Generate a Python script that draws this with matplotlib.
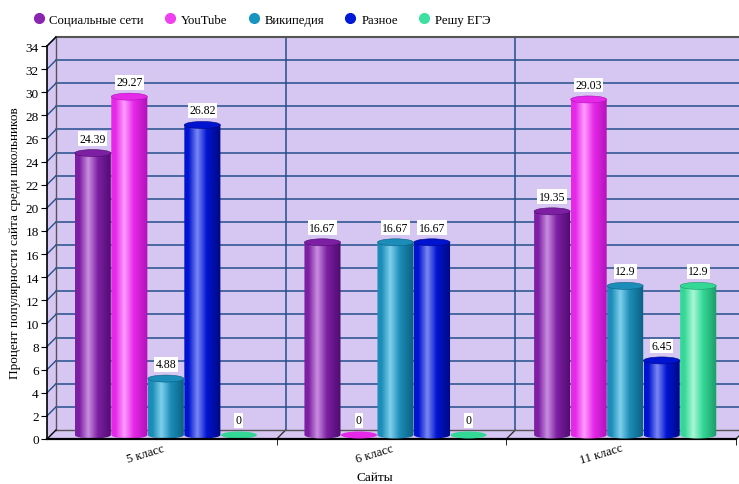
import numpy as np
import matplotlib.pyplot as plt
from matplotlib.colors import LinearSegmentedColormap
from matplotlib.patches import Polygon, Ellipse
from matplotlib.lines import Line2D

plt.rcParams['font.family'] = ['Liberation Serif', 'DejaVu Serif']

# data
categories = ['5 класс', '6 класс', '11 класс']
series = ['Социальные сети', 'YouTube', 'Википедия', 'Разное', 'Решу ЕГЭ']
soc = [24.39, 16.67, 19.35]
youtube = [29.27, 0, 29.03]
wiki = [4.88, 16.67, 12.9]
misc = [26.82, 16.67, 6.45]
ege = [0, 0, 12.9]
values = [soc, youtube, wiki, misc, ege]
yticks = list(range(0, 35, 2))

# colours: (dark edge, body, highlight, legend)
shades = [
    ('#4e0c6e', '#7d1fa3', '#c98fe0', '#8a25b0'),
    ('#b010b8', '#e628e8', '#ff9cff', '#f040f0'),
    ('#0b5f80', '#1b8db8', '#7fd0ec', '#1894c0'),
    ('#000880', '#0014d0', '#7a88f4', '#0018d8'),
    ('#1c9a68', '#34d896', '#aaf8d6', '#3ce0a0'),
]
lav = '#d6c6f2'
gridc = '#24508a'

W, H = 739, 485
fig = plt.figure(figsize=(W / 100, H / 100), dpi=100)
ax_l, ax_b, ax_w, ax_h = 47, 45, 689, 393
ax = fig.add_axes([ax_l / W, ax_b / H, ax_w / W, ax_h / H])
ax.set_xlim(0, 3)
ax.set_ylim(0, 34)

px_x = 3 / ax_w      # data units per pixel
px_y = 34 / ax_h
dxw, dyw = 9 * px_x, 9 * px_y   # back wall depth
dxb, dyb = 4 * px_x, 4 * px_y   # bar depth

# walls
kw = dict(closed=True, facecolor=lav, edgecolor='none', clip_on=False, zorder=0)
ax.add_patch(Polygon([(dxw, dyw), (3 + dxw, dyw), (3 + dxw, 34 + dyw), (dxw, 34 + dyw)], **kw))
ax.add_patch(Polygon([(0, 0), (dxw, dyw), (dxw, 34 + dyw), (0, 34)], **kw))
ax.add_patch(Polygon([(0, 0), (3, 0), (3 + dxw, dyw), (dxw, dyw)], **kw))

for y in yticks[1:]:
    ax.plot([dxw, 3 + dxw], [y + dyw, y + dyw], color=gridc, lw=1.1, clip_on=False, zorder=1)
    ax.plot([0, dxw], [y, y + dyw], color=gridc, lw=1.0, clip_on=False, zorder=1)
for x in [1, 2]:
    ax.plot([x + dxw, x + dxw], [dyw, 34 + dyw], color=gridc, lw=1.1, clip_on=False, zorder=1)
for x in [1, 2, 3]:
    ax.plot([x, x + dxw], [0, dyw], color='#333333', lw=1.0, clip_on=False, zorder=1)
ax.plot([dxw, 3 + dxw], [dyw, dyw], color='#555555', lw=1.0, clip_on=False, zorder=1)
ax.plot([dxw, dxw], [dyw, 34 + dyw], color='#555555', lw=1.0, clip_on=False, zorder=1)
ax.plot([dxw, 3 + dxw], [34 + dyw, 34 + dyw], color='#555555', lw=1.5, clip_on=False, zorder=1)
ax.plot([0, dxw], [34, 34 + dyw], color='black', lw=1.0, clip_on=False, zorder=1)
ax.plot([0, dxw], [0, dyw], color='black', lw=1.0, clip_on=False, zorder=1)

# cylinders
slot = 0.159
bw = 0.157
eh = 7 * px_y
theta = np.linspace(np.pi, 2 * np.pi, 40)
grad = np.linspace(0, 1, 200).reshape(1, -1)
for s, vals in enumerate(values):
    dark, body, light, _ = shades[s]
    cmap = LinearSegmentedColormap.from_list(
        's%d' % s, [(0, body), (0.12, body), (0.36, light), (0.62, body), (1, dark)])
    for g, v in enumerate(vals):
        xc = g + 0.5 + (s - 2) * slot + dxb
        base = dyb
        x0, x1 = xc - bw / 2, xc + bw / 2
        z = 2 + s * 0.1 + g
        label_y = base + eh / 2
        if v > 0:
            top = v + dyb
            bx = xc + bw / 2 * np.cos(theta)
            by = base + eh / 2 * np.sin(theta)
            verts = list(zip(bx, by)) + [(x1, top), (x0, top)]
            clip = Polygon(verts, closed=True, facecolor='none', edgecolor='none', transform=ax.transData)
            ax.add_patch(clip)
            im = ax.imshow(grad, cmap=cmap, aspect='auto', extent=[x0, x1, base - eh, top],
                           zorder=z, interpolation='bilinear')
            im.set_clip_path(clip)
            ax.add_patch(Ellipse((xc, top), bw, eh, facecolor=body, edgecolor=dark, lw=0.4, zorder=z + 0.01))
            label_y = top + eh / 2
        else:
            ax.add_patch(Ellipse((xc, base), bw, eh, facecolor=body, edgecolor='none', zorder=z))
        txt = '%g' % v
        ax.text(xc, label_y + 5 * px_y, txt, ha='center', va='bottom', fontsize=8.5, zorder=20,
                bbox=dict(facecolor='white', edgecolor='none', pad=1.0))

# axes
ax.set_xlim(0, 3)
ax.set_ylim(0, 34)
for sp in ['top', 'right']:
    ax.spines[sp].set_visible(False)
ax.spines['left'].set_linewidth(1.2)
ax.spines['bottom'].set_linewidth(1.6)
ax.set_yticks(yticks)
ax.tick_params(axis='y', direction='out', length=4, labelsize=9.5, pad=2)
ax.set_xticks([0.5, 1.5, 2.5])
ax.set_xticklabels(categories, rotation=17, ha='right', rotation_mode='anchor', fontsize=9)
ax.set_xticks([1, 2, 3], minor=True)
ax.tick_params(axis='x', which='major', length=0, pad=2)
ax.tick_params(axis='x', which='minor', direction='out', length=4)
ax.set_ylabel('Процент популярности сайта среди школьников', fontsize=9.5, labelpad=3)
ax.set_xlabel('Сайты', fontsize=9.5)
ax.xaxis.set_label_coords(0.476, -0.081)

handles = [Line2D([], [], marker='o', linestyle='none', markersize=7,
                  markerfacecolor=sh[3], markeredgecolor=sh[3]) for sh in shades]
fig.legend(handles, series, loc='upper left', bbox_to_anchor=(0.028, 0.993), ncol=5,
           frameon=False, fontsize=9.2, handlelength=1.0, handletextpad=0.35,
           columnspacing=1.55)

fig.savefig('out.png', dpi=100)
